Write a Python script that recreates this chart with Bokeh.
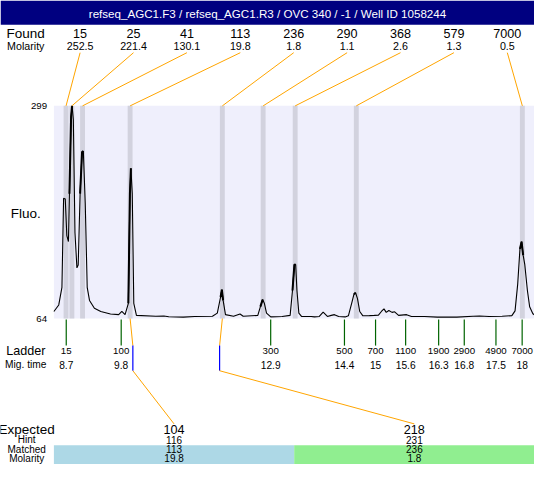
from bokeh.plotting import figure
from bokeh.models import Range1d
from bokeh.core.properties import value
from bokeh.embed import file_html
from bokeh.resources import INLINE

# ---------------- data ----------------
title_text = "refseq_AGC1.F3 / refseq_AGC1.R3 / OVC 340 / -1 / Well ID 1058244"

found_sizes = [15, 25, 41, 113, 236, 290, 368, 579, 7000]
found_molarity = [252.5, 221.4, 130.1, 19.8, 1.8, 1.1, 2.6, 1.3, 0.5]
found_times = [8.693, 8.812, 9.030, 10.001, 11.884, 12.717, 13.371, 14.619, 18.009]

ladder_sizes = [15, 100, 300, 500, 700, 1100, 1900, 2900, 4900, 7000]
ladder_times = [8.697, 9.819, 12.871, 14.377, 15.012, 15.626, 16.300, 16.823, 17.470, 18.005]

expected_sizes = [104, 218]
hint_sizes = [116, 231]
hint_times = [10.057, 11.828]
matched_sizes = [113, 236]
matched_times = [10.001, 11.884]
matched_molarity = [19.8, 1.8]
expected_colors = ["#add8e6", "#90ee90"]

trace_time = [8.445, 8.544, 8.609, 8.643, 8.677, 8.709, 8.742, 8.762, 8.796, 8.816,
              8.842, 8.875, 8.915, 8.941, 8.980, 9.020, 9.046, 9.085, 9.125, 9.172,
              9.272, 9.402, 9.600, 9.767, 9.832, 9.898, 9.965, 9.997, 10.017, 10.045,
              10.076, 10.130, 10.526, 10.691, 10.790, 11.087, 11.319, 11.682, 11.781, 11.848,
              11.874, 11.900, 11.948, 12.112, 12.245, 12.310, 12.608, 12.661, 12.707, 12.741,
              12.786, 12.872, 13.104, 13.268, 13.316, 13.355, 13.381, 13.407, 13.446, 13.500,
              13.698, 13.764, 13.863, 13.942, 14.029, 14.108, 14.173, 14.259, 14.392, 14.457,
              14.524, 14.570, 14.604, 14.643, 14.689, 14.754, 14.887, 14.986, 15.071, 15.131,
              15.184, 15.230, 15.283, 15.349, 15.402, 15.482, 15.646, 15.745, 16.011, 16.275,
              16.671, 17.002, 17.133, 17.331, 17.597, 17.795, 17.860, 17.914, 17.960, 17.993,
              18.025, 18.059, 18.112, 18.158, 18.224, 18.257]
trace_fluo = [71.8, 79, 98.5, 197, 196, 155.5, 149, 202, 287, 299,
              284, 159, 120, 123, 202, 248, 249, 191, 98.5, 84,
              75.4, 71.8, 69, 68.3, 71.8, 68.3, 80.8, 202, 230, 202,
              80.8, 67.5, 66.5, 66.8, 66, 65.6, 66.2, 66.5, 70, 87.8,
              96, 84, 68.3, 66.5, 69, 66.5, 67.5, 77.2, 85, 81,
              70, 65.8, 66.3, 67.5, 95, 123.5, 123.8, 95, 70, 66.3,
              66.3, 65.8, 66.3, 71, 66.3, 67.5, 68.3, 66.3, 65.8, 67,
              80.8, 90.7, 92.5, 86, 71.8, 67, 67.2, 67.5, 67.8, 71.8,
              74.7, 70.8, 72.9, 70.8, 71.4, 67.5, 68.3, 66.3, 66.3, 65.6,
              65.6, 66.6, 66.8, 66.3, 66.6, 67.2, 72.5, 102, 141, 149,
              134, 123.5, 95, 77, 69.3, 68]

y_ticks = [64, 299]
y_label = "Fluo."

# ---------------- layout (reference pixel frame) ----------------
W_REF, H_REF = 550, 480
PLOT_L, PLOT_R, PLOT_T, PLOT_B = 55, 550, 109, 329
T_L, T_R = 8.445, 18.257
F_B, F_T = y_ticks
FONT = "Liberation Sans"


def X(px):
    return T_L + (px - PLOT_L) * (T_R - T_L) / (PLOT_R - PLOT_L)


def Y(py):
    return F_B + (PLOT_B - py) * (F_T - F_B) / (PLOT_B - PLOT_T)


p = figure(width=534, height=464, x_range=Range1d(X(0), X(W_REF)),
           y_range=Range1d(Y(H_REF), Y(0)), output_backend="svg",
           toolbar_location=None, min_border=0, x_axis_type=None, y_axis_type=None)
p.outline_line_color = None
p.background_fill_color = "white"
p.border_fill_color = "white"
p.xgrid.visible = False
p.ygrid.visible = False


def txt(xs, ys, texts, size, color="black", align="center"):
    p.text(x=xs, y=ys, text=texts, text_font=value(FONT), text_font_size=f"{size}px",
           text_align=align, text_baseline="middle", text_color=color)


# title bar
p.quad(left=[X(0)], right=[X(W_REF)], bottom=[Y(25)], top=[Y(0)], fill_color="#000080", line_color=None)
txt([X(W_REF / 2)], [Y(13.5)], [title_text], 11.6, color="white")

# plot area background
p.quad(left=[T_L], right=[T_R], bottom=[F_B], top=[F_T], fill_color="#efeffc", line_color=None)
# found peak bands
p.vbar(x=found_times, width=0.1, bottom=F_B, top=F_T, fill_color="#d2d2de", line_color=None)
# trace
p.line(trace_time, trace_fluo, line_color="black", line_width=1.1)
# emphasised apex of the found peaks
for ft in found_times[1:]:
    seg = [(t, f) for t, f in zip(trace_time, trace_fluo) if abs(t - ft) <= 0.02]
    if len(seg) >= 1:
        i0 = trace_time.index(seg[0][0])
        i1 = trace_time.index(seg[-1][0])
        p.line(trace_time[max(i0 - 1, 0):i1 + 1], trace_fluo[max(i0 - 1, 0):i1 + 1],
               line_color="black", line_width=2)

# y tick labels and label
txt([X(48)] * 2, y_ticks, [str(v) for v in y_ticks], 9.7, align="right")
txt([X(26)], [Y(220)], [y_label], 13.5)

# found header
n = len(found_sizes)
lab_x = [X(82 + 55 * i) for i in range(n)]
txt([X(26)], [Y(34)], ["Found"], 13.5)
txt([X(26)], [Y(47)], ["Molarity"], 10.7)
txt(lab_x, [Y(34)] * n, [str(s) for s in found_sizes], 12.6)
txt(lab_x, [Y(47)] * n, [f"{m:.1f}" for m in found_molarity], 10.7)
p.segment(x0=lab_x, y0=[Y(54)] * n, x1=found_times, y1=[F_T] * n, line_color="#ffa500", line_width=1)

# ladder
m = len(ladder_sizes)
p.segment(x0=ladder_times, y0=[Y(330)] * m, x1=ladder_times, y1=[Y(357)] * m,
          line_color="#006400", line_width=1.2)
txt(ladder_times, [Y(363)] * m, [str(s) for s in ladder_sizes], 9.7)
txt(ladder_times, [Y(377)] * m, [f"{round(t, 1):g}" for t in ladder_times], 10.2)
txt([X(26)], [Y(363)], ["Ladder"], 12.6)
txt([X(26)], [Y(377)], ["Mig. time"], 10.2)

# expected table
k = len(expected_sizes)
cw = (PLOT_R - PLOT_L) / k
cells_l = [X(PLOT_L + i * cw) for i in range(k)]
cells_r = [X(PLOT_L + (i + 1) * cw) for i in range(k)]
cells_c = [X(PLOT_L + (i + 0.5) * cw) for i in range(k)]
p.quad(left=cells_l, right=cells_r, bottom=[Y(H_REF)] * k, top=[Y(460)] * k,
       fill_color=expected_colors, line_color=None)
p.segment(x0=matched_times, y0=[F_B] * k, x1=hint_times, y1=[Y(357)] * k, line_color="#ffa500", line_width=1)
p.segment(x0=hint_times, y0=[Y(357)] * k, x1=hint_times, y1=[Y(383)] * k, line_color="#0000ff", line_width=1.2)
p.segment(x0=hint_times, y0=[Y(383)] * k, x1=cells_c, y1=[Y(438)] * k, line_color="#ffa500", line_width=1)

txt([X(27)], [Y(443.5)], ["Expected"], 13.5)
txt([X(27)], [Y(454.5)], ["Hint"], 10)
txt([X(27)], [Y(464)], ["Matched"], 10)
txt([X(27)], [Y(473.5)], ["Molarity"], 10)
txt(cells_c, [Y(443.5)] * k, [str(s) for s in expected_sizes], 12.6)
txt(cells_c, [Y(454.5)] * k, [str(s) for s in hint_sizes], 10)
txt(cells_c, [Y(464)] * k, [str(s) for s in matched_sizes], 10)
txt(cells_c, [Y(473.5)] * k, [f"{v:.1f}" for v in matched_molarity], 10)

open("out.html", "w").write(file_html(p, INLINE))
